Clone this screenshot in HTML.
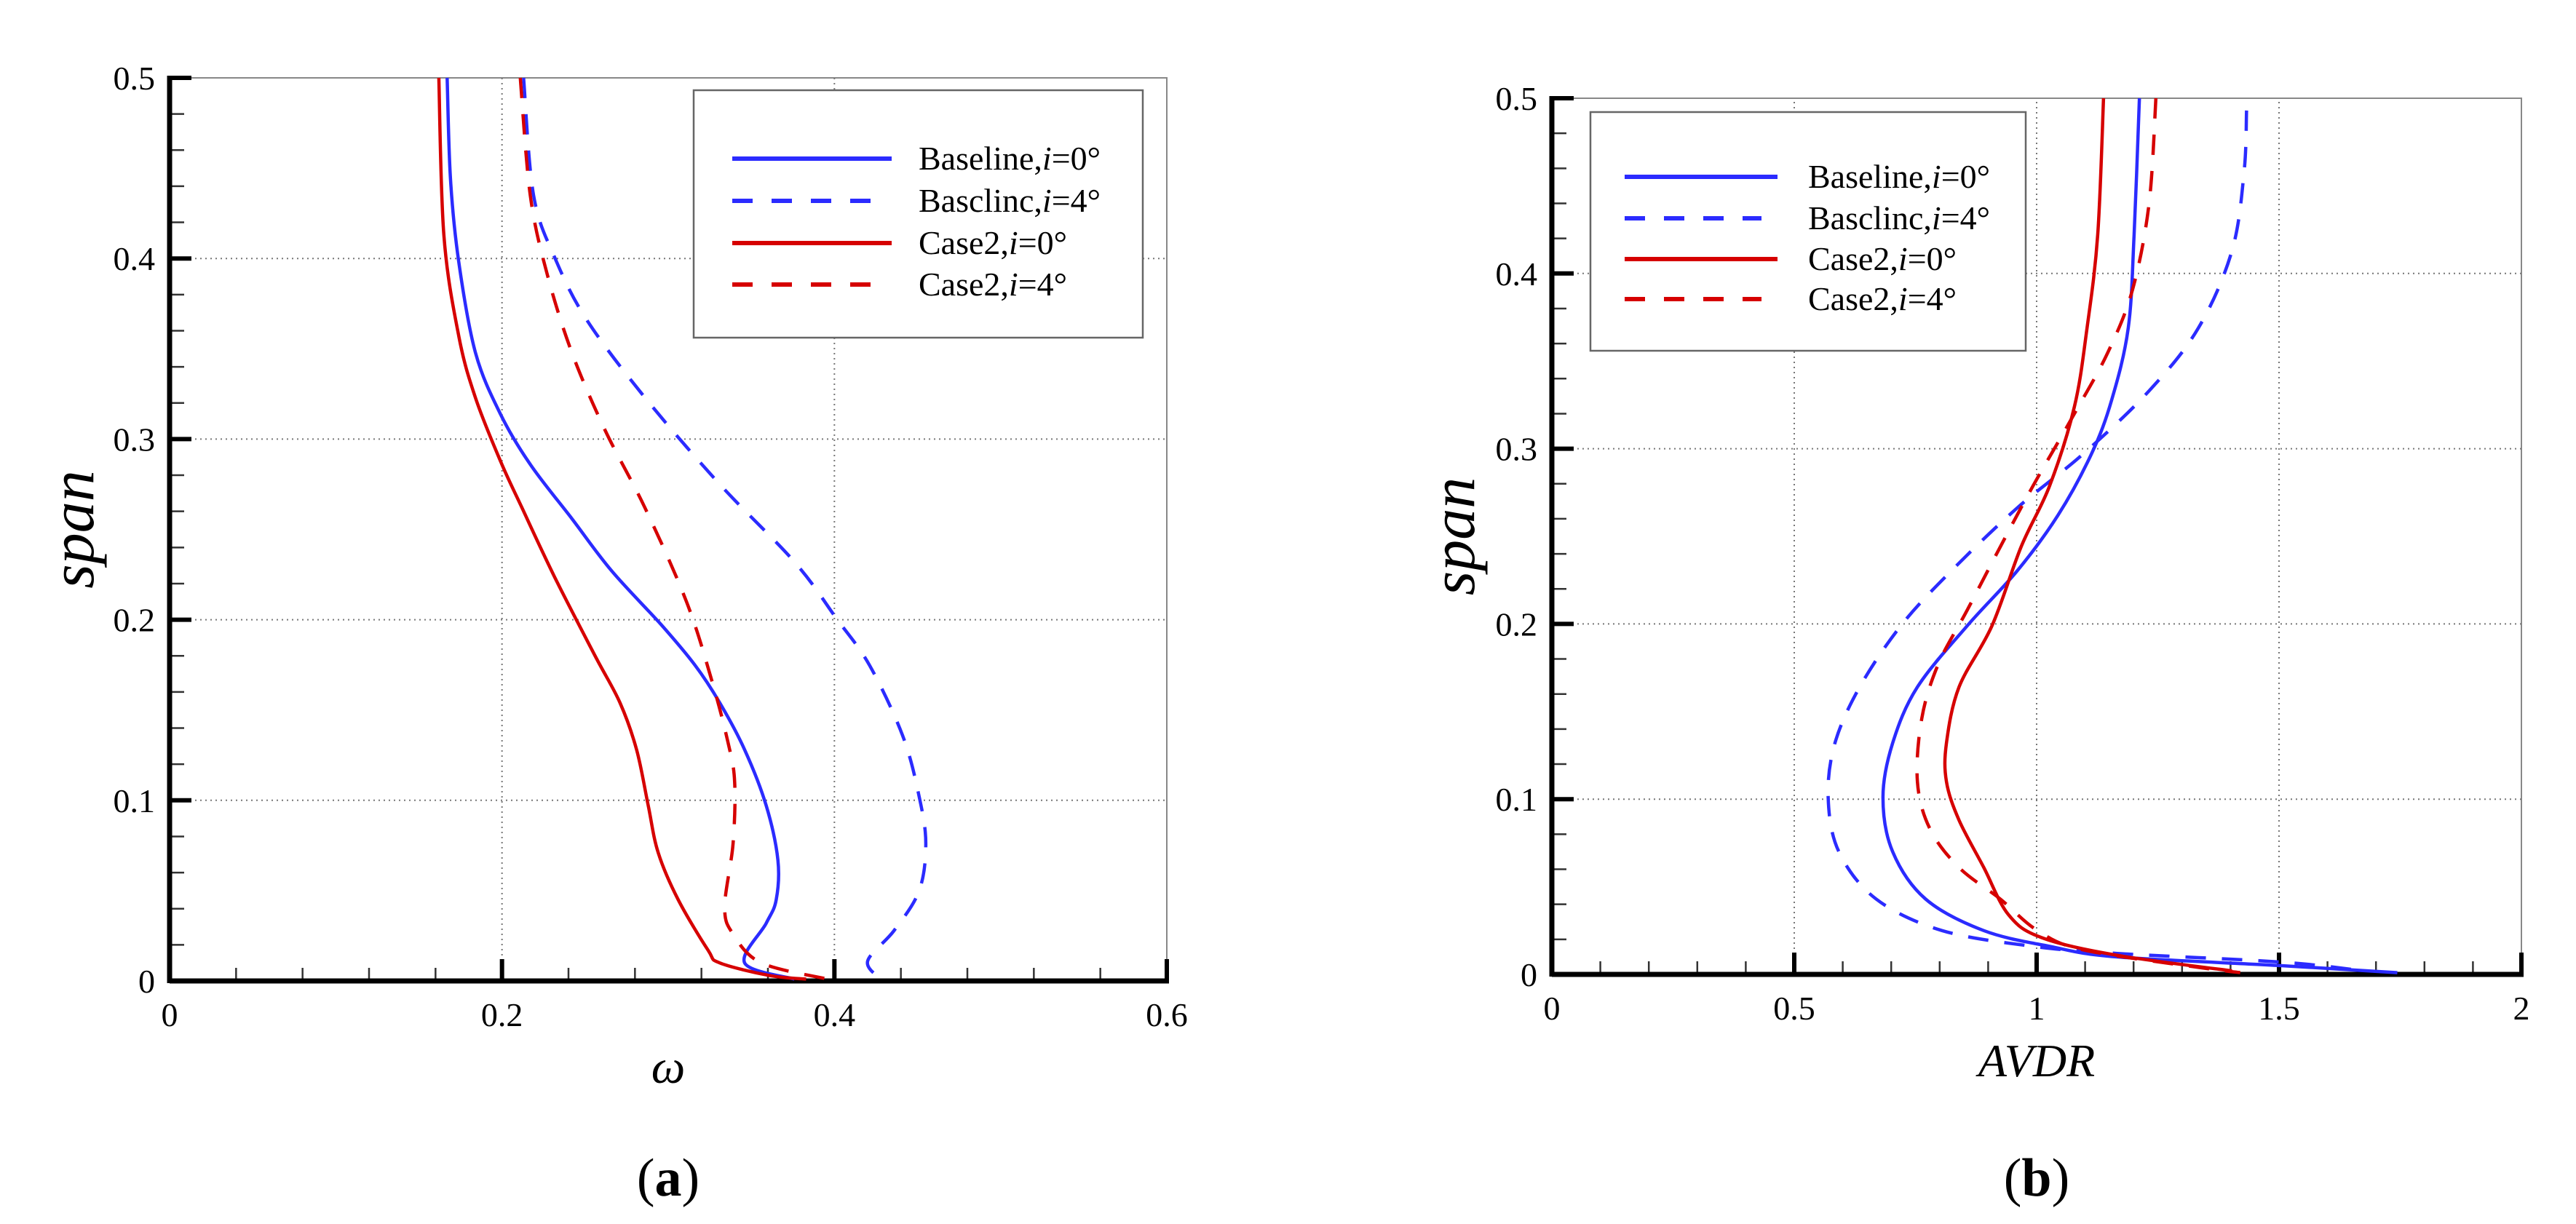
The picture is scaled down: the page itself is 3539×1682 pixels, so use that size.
<!DOCTYPE html>
<html><head><meta charset="utf-8"><style>
html,body{margin:0;padding:0;background:#fff;}
svg{display:block;}
svg text{font-family:"Liberation Serif","DejaVu Serif",serif;fill:#000;}
</style></head><body>
<svg id="fig" width="3539" height="1682" viewBox="0 0 3539 1682" xmlns="http://www.w3.org/2000/svg" font-family="Liberation Serif, DejaVu Serif, serif"></svg>
<script>
// ---- Chart (a) data: omega vs span ----
const aBase0X = [0.167,0.169,0.174,0.184,0.199,0.217,0.242,0.266,0.296,0.316,0.331,0.346,0.359,0.366,0.365,0.359,0.346,0.376];
const aBase0Y = [0.5,0.444,0.398,0.348,0.314,0.286,0.256,0.227,0.197,0.175,0.154,0.128,0.097,0.067,0.045,0.032,0.010,0.001];
const aBase4X = [0.213,0.219,0.232,0.251,0.286,0.331,0.376,0.401,0.421,0.441,0.451,0.455,0.451,0.436,0.420,0.428];
const aBase4Y = [0.5,0.435,0.400,0.366,0.323,0.275,0.232,0.201,0.175,0.136,0.102,0.076,0.050,0.028,0.011,0.001];
const aCase0X = [0.162,0.165,0.174,0.184,0.199,0.212,0.232,0.256,0.271,0.281,0.288,0.294,0.306,0.324,0.331,0.361,0.383];
const aCase0Y = [0.5,0.413,0.357,0.323,0.288,0.262,0.223,0.180,0.154,0.128,0.097,0.071,0.045,0.017,0.010,0.003,0.001];
const aCase4X = [0.211,0.217,0.227,0.242,0.262,0.286,0.311,0.326,0.336,0.340,0.339,0.334,0.339,0.356,0.396];
const aCase4Y = [0.5,0.435,0.392,0.348,0.305,0.262,0.210,0.167,0.132,0.110,0.076,0.041,0.026,0.010,0.001];
const aXTicks = ["0","0.2","0.4","0.6"];
const aXTickVals = [0,0.2,0.4,0.6];
const yTicks = ["0","0.1","0.2","0.3","0.4","0.5"];
const yTickVals = [0,0.1,0.2,0.3,0.4,0.5];
// ---- Chart (b) data: AVDR vs span ----
const bBase0X = [1.212,1.201,1.189,1.155,1.113,1.044,0.959,0.857,0.754,0.703,0.683,0.703,0.771,0.891,1.027,1.164,1.505,1.744];
const bBase0Y = [0.5,0.422,0.369,0.328,0.297,0.262,0.230,0.199,0.164,0.132,0.101,0.070,0.043,0.025,0.016,0.010,0.005,0.001];
const bBase4X = [1.433,1.428,1.403,1.334,1.232,1.096,0.959,0.823,0.720,0.635,0.584,0.570,0.592,0.669,0.805,0.993,1.164,1.505,1.676];
const bBase4Y = [0.493,0.458,0.413,0.369,0.333,0.297,0.266,0.230,0.199,0.164,0.132,0.101,0.070,0.043,0.025,0.016,0.012,0.007,0.002];
const bCase0X = [1.138,1.126,1.104,1.078,1.027,0.968,0.908,0.840,0.814,0.814,0.840,0.891,0.942,1.010,1.164,1.403];
const bCase0Y = [0.5,0.422,0.369,0.324,0.279,0.244,0.199,0.164,0.132,0.110,0.088,0.061,0.034,0.021,0.011,0.002];
const bCase4X = [1.246,1.232,1.198,1.147,1.078,0.993,0.925,0.857,0.797,0.763,0.754,0.780,0.840,0.925,1.002,1.096,1.334,1.420];
const bCase4Y = [0.5,0.440,0.391,0.355,0.320,0.279,0.244,0.208,0.177,0.146,0.110,0.083,0.061,0.043,0.025,0.014,0.004,0.001];
const bXTicks = ["0","0.5","1","1.5","2"];
const bXTickVals = [0,0.5,1,1.5,2];
const legendLabels = [["Baseline,","i","=0°"],["Basclinc,","i","=4°"],["Case2,","i","=0°"],["Case2,","i","=4°"]];

const NS="http://www.w3.org/2000/svg";
const FONT='"Liberation Serif","DejaVu Serif",serif';
const svg=document.getElementById('fig');
function mk(tag,attrs,parent){const e=document.createElementNS(NS,tag);for(const k in attrs)e.setAttribute(k,attrs[k]);if(tag==='text')e.setAttribute('font-family',FONT);(parent||svg).appendChild(e);return e;}
function smooth(pts){let d=`M${pts[0][0].toFixed(1)},${pts[0][1].toFixed(1)}`;
 for(let i=0;i<pts.length-1;i++){const p0=pts[Math.max(0,i-1)],p1=pts[i],p2=pts[i+1],p3=pts[Math.min(pts.length-1,i+2)];
  const c1=[p1[0]+(p2[0]-p0[0])/6,p1[1]+(p2[1]-p0[1])/6],c2=[p2[0]-(p3[0]-p1[0])/6,p2[1]-(p3[1]-p1[1])/6];
  d+=`C${c1[0].toFixed(1)},${c1[1].toFixed(1)} ${c2[0].toFixed(1)},${c2[1].toFixed(1)} ${p2[0].toFixed(1)},${p2[1].toFixed(1)}`;}
 return d;}

function chart(cfg){
 const g=mk('g',{});
 
 
 const sx=v=>cfg.x0+(v-cfg.xmin)/(cfg.xmax-cfg.xmin)*(cfg.x1-cfg.x0);
 const sy=v=>cfg.y0-(v)/(0.5)*(cfg.y0-cfg.y1);
 const fr=mk('rect',{x:cfg.x0,y:cfg.y1,width:cfg.x1-cfg.x0,height:cfg.y0-cfg.y1,fill:'none',stroke:'#888','stroke-width':2},g);
 
 cfg.xTickVals.forEach((v,i)=>{if(i>0&&i<cfg.xTickVals.length-1){const l=mk('line',{x1:sx(v),x2:sx(v),y1:cfg.y0,y2:cfg.y1,stroke:'#777','stroke-width':2,'stroke-dasharray':'2 5'},g);}});
 yTickVals.forEach((v,i)=>{if(i>0&&i<yTickVals.length-1){const l=mk('line',{x1:cfg.x0,x2:cfg.x1,y1:sy(v),y2:sy(v),stroke:'#777','stroke-width':2,'stroke-dasharray':'2 5'},g);}});
 for(let v=cfg.xmin;v<=cfg.xmax+1e-9;v+=cfg.xminor){const l=mk('line',{x1:sx(v),x2:sx(v),y1:cfg.y0,y2:cfg.y0-18,stroke:'#333','stroke-width':2.5},g);}
 for(let v=0;v<=0.5+1e-9;v+=0.02){const l=mk('line',{x1:cfg.x0,x2:cfg.x0+20,y1:sy(v),y2:sy(v),stroke:'#333','stroke-width':2.5},g);}
 cfg.xTickVals.forEach((v,i)=>{const l=mk('line',{x1:sx(v),x2:sx(v),y1:cfg.y0,y2:cfg.y0-30,stroke:'#000','stroke-width':6},g);
  const t=mk('text',{x:sx(v),y:cfg.y0+62,'font-size':46,'text-anchor':'middle'},g);t.textContent=cfg.xTicks[i];});
 yTickVals.forEach((v,i)=>{const l=mk('line',{x1:cfg.x0,x2:cfg.x0+30,y1:sy(v),y2:sy(v),stroke:'#000','stroke-width':6},g);
  const t=mk('text',{x:cfg.x0-20,y:sy(v)+16,'font-size':46,'text-anchor':'end'},g);t.textContent=yTicks[i];});
 const ax=mk('line',{x1:cfg.x0,x2:cfg.x1+3,y1:cfg.y0,y2:cfg.y0,stroke:'#000','stroke-width':7},g);
 const ay=mk('line',{x1:cfg.x0,x2:cfg.x0,y1:cfg.y0+3,y2:cfg.y1-3,stroke:'#000','stroke-width':7},g);
 cfg.series.forEach(s=>{const pts=s.x.map((v,i)=>[sx(v),sy(s.y[i])]);
  const p=mk('path',{d:smooth(pts),fill:'none',stroke:s.c,'stroke-width':4.5,'stroke-linejoin':'round'},g);
  if(s.dash)p.setAttribute('stroke-dasharray','28 22');
  });
 const L=cfg.leg;
 const lb=mk('rect',{x:L.x,y:L.y,width:L.w,height:L.h,fill:'#fff',stroke:'#666','stroke-width':2.5},g);
 cfg.series.forEach((s,i)=>{const yy=L.rows[i];
  const ll=mk('line',{x1:L.lx0,x2:s.dash?L.lx1-22:L.lx1,y1:yy,y2:yy,stroke:s.c,'stroke-width':6},g);if(s.dash)ll.setAttribute('stroke-dasharray','28 26');
  
  const t=mk('text',{x:L.tx,y:yy+15,'font-size':46},g);
  const a=mk('tspan',{},t);a.textContent=legendLabels[i][0];const b=mk('tspan',{'font-style':'italic'},t);b.textContent=legendLabels[i][1];const c=mk('tspan',{},t);c.textContent=legendLabels[i][2];});
 const yt=mk('text',{x:0,y:0,'font-size':86,'font-style':'italic','text-anchor':'middle',transform:`translate(${cfg.ytx},${(cfg.y0+cfg.y1)/2}) rotate(-90)`},g);yt.textContent='span';
 const xt=mk('text',{x:(cfg.x0+cfg.x1)/2,y:cfg.y0+140,'font-size':cfg.xtSize,'font-style':'italic','text-anchor':'middle'},g);xt.textContent=cfg.xTitle;
 const cap=mk('text',{x:(cfg.x0+cfg.x1)/2,y:1643,'font-size':74,'text-anchor':'middle'},g);
 const c1=mk('tspan',{},cap);c1.textContent='(';const c2=mk('tspan',{'font-weight':'bold'},cap);c2.textContent=cfg.cap;const c3=mk('tspan',{},cap);c3.textContent=')';
}
chart({name:'chart-a-omega',x0:233,x1:1603,y0:1348,y1:107,xmin:0,xmax:0.6,xminor:0.04,xTicks:aXTicks,xTickVals:aXTickVals,xTitle:'ω',xtSize:66,ytx:128,cap:'a',
 series:[{x:aBase0X,y:aBase0Y,c:'#2b2bff',dash:false,n:'baseline-i0-line'},{x:aBase4X,y:aBase4Y,c:'#2b2bff',dash:true,n:'baseline-i4-line'},{x:aCase0X,y:aCase0Y,c:'#d60000',dash:false,n:'case2-i0-line'},{x:aCase4X,y:aCase4Y,c:'#d60000',dash:true,n:'case2-i4-line'}],
 leg:{x:953,y:124,w:617,h:340,lx0:1006,lx1:1225,tx:1262,rows:[218,276,334,391]}});
chart({name:'chart-b-avdr',x0:2132,x1:3464,y0:1339,y1:135,xmin:0,xmax:2,xminor:0.1,xTicks:bXTicks,xTickVals:bXTickVals,xTitle:'AVDR',xtSize:64,ytx:2025,cap:'b',
 series:[{x:bBase0X,y:bBase0Y,c:'#2b2bff',dash:false,n:'baseline-i0-line'},{x:bBase4X,y:bBase4Y,c:'#2b2bff',dash:true,n:'baseline-i4-line'},{x:bCase0X,y:bCase0Y,c:'#d60000',dash:false,n:'case2-i0-line'},{x:bCase4X,y:bCase4Y,c:'#d60000',dash:true,n:'case2-i4-line'}],
 leg:{x:2185,y:154,w:598,h:328,lx0:2232,lx1:2442,tx:2484,rows:[243,300,356,411]}});
</script>
</body></html>
